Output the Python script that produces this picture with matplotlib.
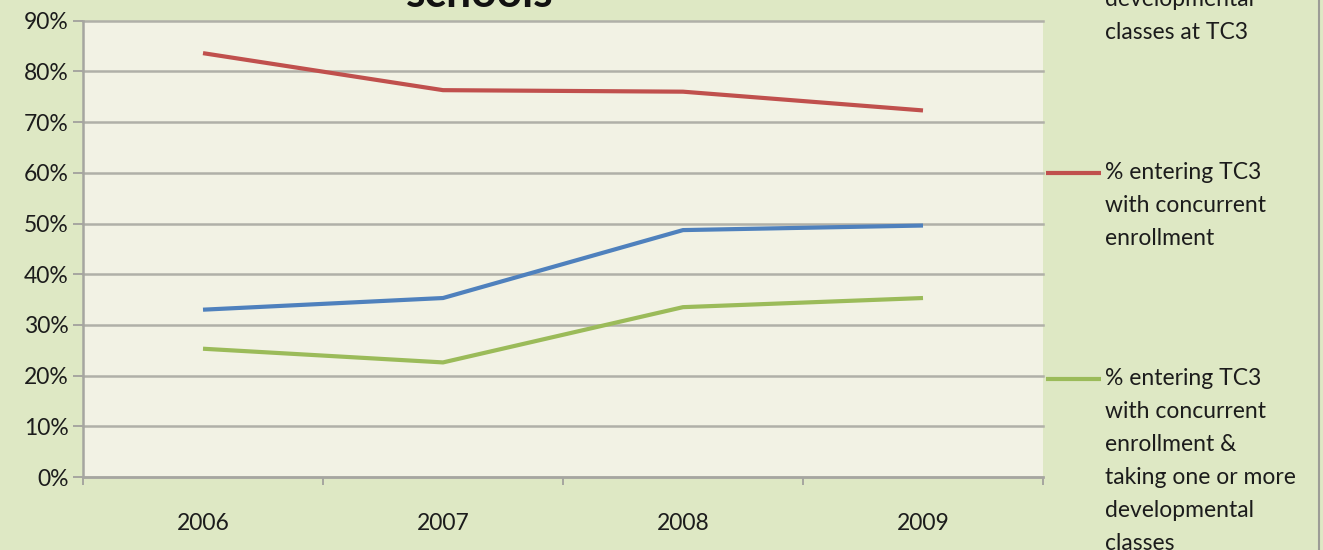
import matplotlib
matplotlib.use('Agg')
import matplotlib.pyplot as plt
from matplotlib.lines import Line2D
from matplotlib.ticker import FixedLocator, FuncFormatter, NullFormatter

plt.rcParams['font.family'] = ['Lato', 'DejaVu Sans']

# ---- data ----
years = ['2006', '2007', '2008', '2009']
dev_classes = [0.330, 0.353, 0.487, 0.496]
concurrent = [0.836, 0.763, 0.760, 0.723]
concurrent_dev = [0.253, 0.226, 0.335, 0.353]
series_values = [dev_classes, concurrent, concurrent_dev]
series_labels = [
    '% entering TC3\ntaking one or more\ndevelopmental\nclasses at TC3',
    '% entering TC3\nwith concurrent\nenrollment',
    '% entering TC3\nwith concurrent\nenrollment &\ntaking one or more\ndevelopmental\nclasses',
]
series_colors = ['#4F81BD', '#C0504D', '#9BBB59']
y_ticks = [0.0, 0.1, 0.2, 0.3, 0.4, 0.5, 0.6, 0.7, 0.8, 0.9]
title_text = 'schools'

# ---- figure ----
W, H = 1323, 550
fig = plt.figure(figsize=(W / 100, H / 100), dpi=100)
fig.patch.set_facecolor('#DEE8C4')

ax_left, ax_right, ax_top, ax_bottom = 83, 1043, 20.7, 477
ax = fig.add_axes([ax_left / W, (H - ax_bottom) / H,
                   (ax_right - ax_left) / W, (ax_bottom - ax_top) / H])
ax.set_facecolor('#F2F2E4')

xs = list(range(len(years)))
for vals, col in zip(series_values, series_colors):
    ax.plot(xs, vals, color=col, lw=3.0, solid_capstyle='butt',
            solid_joinstyle='round', zorder=3)

ax.set_xlim(-0.5, len(years) - 0.5)
ax.set_ylim(y_ticks[0], y_ticks[-1])

txt_color = '#1c1c1c'
grid_color = '#B0B0A8'
axis_color = '#A6A6A0'

ax.yaxis.set_major_locator(FixedLocator(y_ticks))
ax.yaxis.set_major_formatter(FuncFormatter(lambda v, p: f'{v*100:.0f}%'))
ax.yaxis.grid(True, color=grid_color, lw=1.8, zorder=1)
for gl in ax.yaxis.get_gridlines():
    gl.set_clip_on(False)

ax.xaxis.set_major_locator(FixedLocator([i - 0.5 for i in range(len(years) + 1)]))
ax.xaxis.set_major_formatter(NullFormatter())
ax.xaxis.set_minor_locator(FixedLocator(xs))
ax.set_xticklabels(years, minor=True)
ax.tick_params(axis='x', which='minor', length=0, pad=26, labelsize=16.5, labelcolor=txt_color)
ax.tick_params(axis='x', which='major', length=6, width=1.4, color=axis_color, direction='out')
ax.tick_params(axis='y', which='major', length=7.5, width=1.4, color=axis_color,
               direction='out', pad=3, labelsize=16.5, labelcolor=txt_color)

for s in ['top', 'right']:
    ax.spines[s].set_visible(False)
for s in ['left', 'bottom']:
    ax.spines[s].set_color(axis_color)
    ax.spines[s].set_linewidth(1.8)
ax.set_axisbelow(True)

# ---- title (cropped at top, as in the reference) ----
fig.text(480 / W, 1 - 7 / H, title_text, ha='center', va='baseline',
         fontsize=32, fontweight='bold', color='#111111')

# ---- legend (manual, Excel-like wrapped entries) ----
line_h = 33
gap = 107
first_y = 173 - (series_labels[0].count('\n') + 1) * line_h - gap
y_cur = first_y
for lab, col in zip(series_labels, series_colors):
    if y_cur > 0:
        fig.add_artist(Line2D([1046 / W, 1101 / W], [1 - y_cur / H, 1 - y_cur / H],
                              color=col, lw=3.0, solid_capstyle='butt'))
    for k, line in enumerate(lab.split('\n')):
        yy = y_cur + 6 + k * line_h
        if yy < -5:
            continue  # line lies wholly above the visible area of the cropped chart
        fig.text(1105 / W, 1 - yy / H, line, ha='left', va='baseline',
                 fontsize=16.5, color=txt_color)
    y_cur += (lab.count('\n') + 1) * line_h + gap

# chart outer border on the right
fig.add_artist(Line2D([1318.5 / W, 1318.5 / W], [0, 1], color='#9C9C96', lw=1.5))

fig.savefig('out.png', dpi=100, facecolor=fig.get_facecolor())
